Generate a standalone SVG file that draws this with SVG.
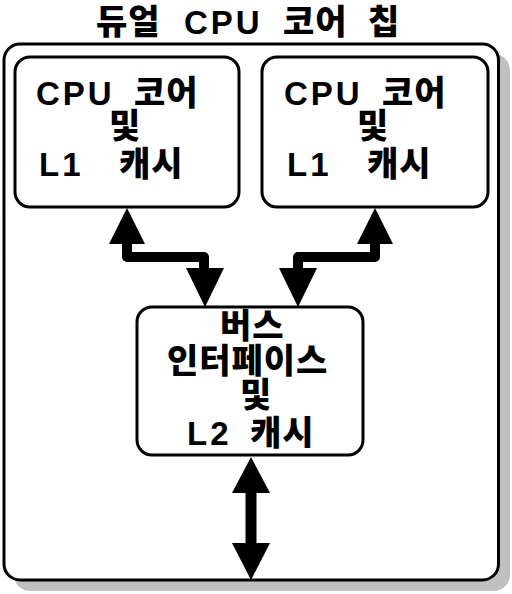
<svg xmlns="http://www.w3.org/2000/svg" width="512" height="594" viewBox="0 0 512 594">
<style>
.t{font-family:"Liberation Sans","Noto Sans CJK KR",sans-serif;font-weight:bold;font-size:32px;fill:#000}
.k{font-family:"Noto Sans CJK KR",sans-serif;font-weight:900;font-size:34px;letter-spacing:1px}
.l{font-size:33px;letter-spacing:3px}
.box{fill:#fff;stroke:#000;stroke-width:3}
.shaft{fill:none;stroke:#000;stroke-width:10;stroke-linejoin:round}
.head{fill:#000}
</style>
<rect width="512" height="594" fill="#fff"/>
<g id="title">
<text class="t" y="34"><tspan class="k" x="96">듀얼</tspan> <tspan class="l" x="184">CPU</tspan> <tspan class="k" x="283">코어</tspan> <tspan class="k" x="368">칩</tspan></text>
</g>
<g id="chip">
<rect x="14" y="54" width="496" height="537" rx="16" fill="#c0c0c0"/>
<rect class="box" x="4" y="44" width="494.5" height="536" rx="16"/>
</g>
<g id="core1">
<rect class="box" x="15" y="57" width="224" height="150" rx="15"/>
<text class="t" y="105"><tspan class="l" x="36">CPU</tspan> <tspan class="k" x="134">코어</tspan></text>
<text class="t" y="138"><tspan class="k" x="109">및</tspan></text>
<text class="t" y="176"><tspan class="l" x="39">L1</tspan> <tspan class="k" x="119">캐시</tspan></text>
</g>
<g id="core2">
<rect class="box" x="262" y="57" width="226" height="150" rx="15"/>
<text class="t" y="105"><tspan class="l" x="284">CPU</tspan> <tspan class="k" x="382">코어</tspan></text>
<text class="t" y="138"><tspan class="k" x="357">및</tspan></text>
<text class="t" y="176"><tspan class="l" x="287">L1</tspan> <tspan class="k" x="367">캐시</tspan></text>
</g>
<g id="bus">
<rect class="box" x="137" y="307" width="226" height="148" rx="15"/>
<text class="t" y="338"><tspan class="k" x="220">버스</tspan></text>
<text class="t" y="373"><tspan class="k" x="167">인터페이스</tspan></text>
<text class="t" y="407"><tspan class="k" x="240">및</tspan></text>
<text class="t" y="445"><tspan class="l" x="187">L2</tspan> <tspan class="k" x="250">캐시</tspan></text>
</g>
<g id="connectors">
<path class="shaft" d="M127,240 L127,257 L204,257 L204,272"/>
<polygon class="head" points="127,208 109,244 145,244"/>
<polygon class="head" points="205,307 186,268 224,268"/>
<path class="shaft" d="M375,240 L375,257 L298,257 L298,272"/>
<polygon class="head" points="375,208 357,244 393,244"/>
<polygon class="head" points="298,307 279,268 317,268"/>
<path class="shaft" style="stroke-width:11" d="M251,488 L251,548"/>
<polygon class="head" points="251,457 232,493 270,493"/>
<polygon class="head" points="251,580 232,543 270,543"/>
</g>
</svg>
